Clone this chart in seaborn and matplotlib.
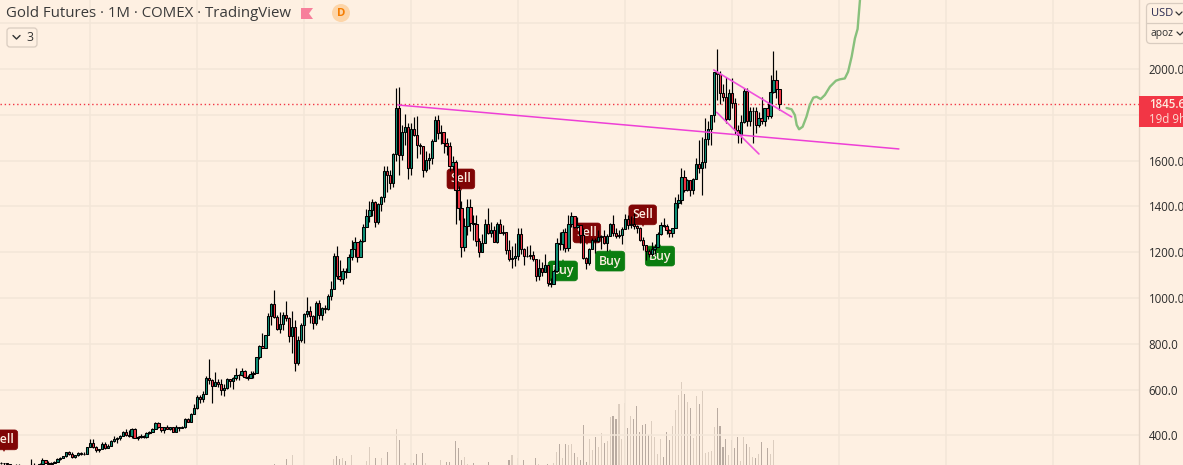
import numpy as np
import seaborn as sns
import matplotlib.pyplot as plt
from matplotlib.patches import Rectangle, FancyBboxPatch, Polygon, Circle

# monthly candles, Jul 2000 .. May 2022, one row per year
opens = [
    281, 277, 277, 276, 264, 270,
    272, 265, 267, 258, 264, 266, 271, 265, 273, 293, 279, 275,
    279, 282, 297, 302, 308, 326, 318, 304, 312, 323, 317, 319,
    347, 368, 347, 336, 339, 364, 346, 354, 375, 385, 386, 398,
    416, 400, 397, 426, 388, 394, 395, 391, 410, 416, 429, 453,
    438, 422, 435, 428, 436, 414, 437, 430, 437, 473, 459, 495,
    518, 569, 557, 582, 652, 642, 616, 632, 626, 598, 606, 647,
    638, 650, 665, 663, 679, 655, 650, 667, 673, 743, 789, 783,
    838, 923, 975, 916, 865, 886, 925, 912, 833, 874, 717, 816,
    884, 928, 943, 922, 891, 979, 927, 955, 950, 1008, 1040, 1182,
    1097, 1083, 1118, 1115, 1180, 1213, 1244, 1181, 1248, 1308, 1359, 1386,
    1421, 1333, 1411, 1439, 1556, 1536, 1502, 1628, 1829, 1623, 1725, 1746,
    1566, 1740, 1711, 1669, 1664, 1560, 1604, 1610, 1687, 1776, 1719, 1726,
    1675, 1663, 1578, 1595, 1472, 1393, 1224, 1313, 1396, 1327, 1323, 1250,
    1202, 1240, 1321, 1284, 1296, 1246, 1322, 1282, 1287, 1210, 1171, 1175,
    1184, 1278, 1213, 1183, 1183, 1189, 1172, 1095, 1132, 1115, 1142, 1065,
    1060, 1116, 1238, 1234, 1290, 1217, 1322, 1357, 1311, 1317, 1277, 1173,
    1152, 1212, 1252, 1247, 1266, 1270, 1242, 1269, 1322, 1284, 1271, 1277,
    1303, 1345, 1318, 1323, 1315, 1305, 1253, 1233, 1206, 1192, 1214, 1222,
    1281, 1320, 1316, 1298, 1285, 1305, 1413, 1427, 1529, 1472, 1514, 1473,
    1520, 1587, 1566, 1596, 1694, 1736, 1800, 1986, 1978, 1895, 1879, 1781,
    1895, 1850, 1734, 1714, 1768, 1905, 1771, 1817, 1818, 1757, 1784, 1774,
    1830, 1796, 1900, 1954, 1911,
]
highs = [
    284, 279, 279, 274, 272, 275,
    274, 270, 271, 268, 298, 280, 271, 280, 300, 294, 286, 282,
    287, 299, 304, 311, 328, 333, 328, 316, 325, 326, 326, 351,
    383, 385, 353, 342, 372, 371, 362, 381, 395, 392, 400, 418,
    426, 421, 432, 430, 396, 405, 400, 416, 418, 432, 458, 457,
    428, 438, 445, 438, 433, 445, 438, 439, 474, 476, 498, 537,
    575, 576, 592, 660, 733, 645, 676, 648, 645, 625, 652, 645,
    655, 692, 668, 694, 685, 664, 682, 680, 744, 795, 848, 840,
    933, 978, 1033, 925, 938, 938, 986, 916, 942, 904, 832, 892,
    935, 1006, 965, 927, 988, 992, 961, 968, 1019, 1072, 1197, 1227,
    1164, 1131, 1129, 1192, 1253, 1267, 1212, 1258, 1323, 1388, 1424, 1432,
    1424, 1415, 1446, 1575, 1578, 1557, 1632, 1917, 1923, 1755, 1804, 1766,
    1764, 1791, 1793, 1679, 1666, 1641, 1634, 1695, 1795, 1798, 1755, 1727,
    1698, 1680, 1620, 1604, 1488, 1424, 1348, 1434, 1434, 1362, 1362, 1261,
    1280, 1345, 1392, 1331, 1315, 1332, 1345, 1320, 1287, 1255, 1225, 1238,
    1307, 1307, 1220, 1225, 1232, 1205, 1172, 1170, 1157, 1191, 1142, 1088,
    1128, 1264, 1287, 1303, 1306, 1362, 1377, 1351, 1352, 1317, 1306, 1180,
    1220, 1264, 1261, 1296, 1275, 1298, 1278, 1327, 1362, 1306, 1299, 1310,
    1365, 1363, 1356, 1369, 1320, 1308, 1265, 1222, 1216, 1246, 1236, 1286,
    1331, 1349, 1325, 1300, 1306, 1442, 1453, 1566, 1560, 1518, 1516, 1525,
    1613, 1692, 1704, 1788, 1775, 1800, 1986, 2089, 1992, 1934, 1966, 1912,
    1962, 1875, 1756, 1798, 1917, 1919, 1836, 1834, 1836, 1814, 1878, 1831,
    1854, 1976, 2078, 1998, 1910,
]
lows = [
    274, 270, 266, 263, 260, 268,
    262, 255, 255, 255, 263, 266, 263, 265, 271, 277, 270, 271,
    277, 282, 290, 299, 307, 313, 302, 299, 311, 312, 315, 317,
    347, 346, 326, 325, 338, 341, 343, 354, 371, 368, 380, 396,
    398, 391, 390, 386, 378, 386, 387, 390, 404, 414, 426, 434,
    414, 412, 426, 422, 414, 416, 417, 430, 433, 458, 457, 492,
    516, 541, 547, 582, 625, 543, 617, 613, 577, 572, 603, 613,
    604, 643, 640, 660, 650, 642, 650, 652, 672, 734, 783, 780,
    846, 884, 912, 861, 849, 862, 900, 806, 761, 681, 705, 809,
    802, 918, 889, 865, 880, 909, 904, 935, 948, 990, 1044, 1082,
    1072, 1062, 1087, 1115, 1165, 1180, 1156, 1177, 1245, 1318, 1331, 1360,
    1309, 1323, 1382, 1421, 1463, 1477, 1483, 1599, 1535, 1604, 1668, 1520,
    1539, 1708, 1612, 1628, 1527, 1549, 1562, 1585, 1685, 1695, 1671, 1635,
    1625, 1555, 1560, 1321, 1339, 1180, 1207, 1274, 1294, 1251, 1227, 1181,
    1221, 1239, 1280, 1268, 1243, 1241, 1282, 1273, 1190, 1161, 1131, 1141,
    1167, 1190, 1142, 1179, 1170, 1162, 1072, 1077, 1098, 1113, 1052, 1046,
    1061, 1112, 1208, 1208, 1200, 1207, 1310, 1304, 1305, 1241, 1171, 1125,
    1146, 1216, 1195, 1244, 1213, 1236, 1205, 1269, 1271, 1262, 1264, 1237,
    1303, 1303, 1304, 1302, 1282, 1247, 1211, 1167, 1180, 1182, 1192, 1221,
    1277, 1312, 1281, 1266, 1267, 1311, 1393, 1412, 1465, 1466, 1445, 1452,
    1518, 1548, 1451, 1567, 1670, 1670, 1769, 1863, 1848, 1860, 1764, 1776,
    1832, 1717, 1676, 1677, 1766, 1750, 1750, 1678, 1721, 1746, 1761, 1753,
    1781, 1788, 1895, 1872, 1822,
]
closes = [
    277, 277, 276, 264, 270, 272,
    265, 267, 258, 264, 266, 271, 265, 273, 293, 279, 275, 279,
    282, 297, 302, 308, 326, 318, 304, 312, 323, 317, 319, 347,
    368, 347, 336, 339, 364, 346, 354, 375, 385, 386, 398, 416,
    400, 397, 426, 388, 394, 395, 391, 410, 416, 429, 453, 438,
    422, 435, 428, 436, 414, 437, 430, 437, 473, 459, 495, 518,
    569, 557, 582, 652, 642, 616, 632, 626, 598, 606, 647, 638,
    650, 665, 663, 679, 655, 650, 667, 673, 743, 789, 783, 838,
    923, 975, 916, 865, 886, 925, 912, 833, 874, 717, 816, 884,
    928, 943, 922, 891, 979, 927, 955, 950, 1008, 1040, 1182, 1097,
    1083, 1118, 1115, 1180, 1213, 1244, 1181, 1248, 1308, 1359, 1386, 1421,
    1333, 1411, 1439, 1556, 1536, 1502, 1628, 1829, 1623, 1725, 1746, 1566,
    1740, 1711, 1669, 1664, 1560, 1604, 1610, 1687, 1776, 1719, 1726, 1675,
    1663, 1578, 1595, 1472, 1393, 1224, 1313, 1396, 1327, 1323, 1250, 1202,
    1240, 1321, 1284, 1296, 1246, 1322, 1282, 1287, 1210, 1171, 1175, 1184,
    1278, 1213, 1183, 1183, 1189, 1172, 1095, 1132, 1115, 1142, 1065, 1060,
    1116, 1238, 1234, 1290, 1217, 1322, 1357, 1311, 1317, 1277, 1173, 1152,
    1212, 1252, 1247, 1266, 1270, 1242, 1269, 1322, 1284, 1271, 1277, 1303,
    1345, 1318, 1323, 1315, 1305, 1253, 1233, 1206, 1192, 1214, 1222, 1281,
    1320, 1316, 1298, 1285, 1305, 1413, 1427, 1529, 1472, 1514, 1473, 1520,
    1587, 1566, 1596, 1694, 1736, 1800, 1986, 1978, 1895, 1879, 1781, 1895,
    1850, 1734, 1714, 1768, 1905, 1771, 1817, 1818, 1757, 1784, 1774, 1830,
    1796, 1900, 1954, 1911, 1845.6,
]
# visible part of the volume pane (its baseline is cut off by the crop)
volume = [
    0, 0, 0, 0, 0, 0,
    0, 0, 0, 0, 0, 0, 0, 0, 0, 0, 0, 0,
    0, 0, 0, 0, 0, 0, 0, 0, 0, 0, 0, 0,
    0, 0, 0, 0, 0, 0, 0, 0, 0, 0, 0, 0,
    0, 0, 0, 0, 0, 0, 0, 0, 0, 0, 0, 0,
    0, 0, 0, 0, 0, 0, 0, 0, 0, 0, 0, 0,
    0, 0, 0, 0, 0, 0, 0, 0, 0, 0, 0, 0,
    0, 0, 0, 0, 0, 0, 0, 0, 0, 0, 0, 0,
    0, 0, 3, 0, 0, 0, 18, 0, 30, 0, 0, 0,
    0, 0, 0, 0, 0, 0, 0, 0, 0, 0, 18, 27,
    18, 21, 12, 0, 30, 0, 0, 0, 0, 12, 54, 0,
    21, 0, 21, 0, 39, 0, 0, 108, 75, 0, 5, 0,
    5, 5, 33, 0, 36, 6, 0, 0, 0, 0, 15, 0,
    9, 9, 0, 72, 51, 15, 24, 3, 0, 6, 0, 0,
    0, 0, 9, 0, 0, 0, 0, 0, 0, 15, 30, 0,
    21, 0, 15, 0, 0, 0, 21, 3, 0, 0, 3, 0,
    6, 39, 63, 21, 63, 60, 63, 36, 24, 15, 120, 9,
    78, 45, 84, 54, 96, 66, 72, 144, 147, 138, 183, 78,
    186, 111, 147, 138, 177, 99, 120, 123, 90, 132, 84, 33,
    78, 24, 99, 75, 117, 165, 210, 249, 213, 189, 171, 81,
    207, 183, 222, 36, 39, 42, 114, 171, 117, 54, 78, 30,
    75, 51, 84, 12, 84, 63, 54, 24, 21, 33, 69, 0,
    51, 33, 75, 0, 0,
]

yticks = [2200, 2000, 1800, 1600, 1400, 1200, 1000, 800, 600, 400]
ylabels = ['', '2000.0', '', '1600.0', '1400.0', '1200.0', '1000.0', '800.0', '600.0', '400.0']
year_ticks = [30, 66, 102, 138, 174, 210, 246, 282, 318, 354]

sell_x = [1.0, 154.8, 197.2, 216.0]
sell_y = [380, 1520, 1284, 1363]
buy_x = [189.1, 205.0, 221.8]
buy_y = [1118, 1161, 1183]

long_trend_x = [133.6, 302.2]
long_trend_y = [1843, 1651]
upper_flag_x = [239.9, 266.1]
upper_flag_y = [1996, 1791]
lower_flag_x = [240.9, 255.1]
lower_flag_y = [1811, 1629]

sketch_x = [264.4, 266.1, 267.2, 267.8, 268.6, 269.8, 271.1, 272.2, 273.4, 274.5, 275.9,
            277.3, 279.0, 281.0, 282.3, 284.0, 285.1, 286.3, 287.4, 288.3, 289.1, 289.3]
sketch_y = [1830, 1824, 1799, 1756, 1737, 1748, 1792, 1843, 1875, 1879, 1869,
            1887, 1923, 1949, 1955, 1959, 1988, 2054, 2134, 2175, 2302, 2330]

last_price = 1845.6

BG = '#fef0e2'
GRID = '#f3e6d8'
UP = '#0f8f76'
DOWN = '#f23645'
FONT = 'Open Sans'

sns.set_theme(style='white', rc={'figure.facecolor': BG, 'axes.facecolor': BG,
                                 'savefig.facecolor': BG})
plt.rcParams['font.family'] = [FONT, 'DejaVu Sans']

opens, highs, lows, closes = map(np.array, (opens, highs, lows, closes))
idx = np.arange(len(closes))
rising = closes >= opens

fig = plt.figure(figsize=(11.83, 4.65), dpi=100)
ax_vol = fig.add_axes([0, 0, 1139 / 1183, 1])
ax = fig.add_axes([0, 0, 1139 / 1183, 1], sharex=ax_vol)
ax.patch.set_visible(False)

# volume pane
ax_vol.bar(idx, volume, width=0.36, color=np.where(rising, '#dccdbf', '#b9aba1'), linewidth=0)
ax_vol.set_ylim(0, 1395)
ax_vol.set_yticks([])
sns.despine(ax=ax_vol, left=True, bottom=True, right=True, top=True)

# price pane
ax.set_xlim(-0.3, 383)
ax.set_ylim(270.2, 2301.7)
ax.yaxis.tick_right()
ax.set_yticks(yticks)
ax.set_yticklabels(ylabels, fontsize=8.3, color='#2b2b2b')
ax.set_xticks(year_ticks)
ax.set_xticklabels([])
ax.tick_params(axis='both', length=0)
ax.tick_params(axis='y', pad=7)
ax.grid(True, color=GRID, linewidth=1.1, zorder=0)
ax.set_axisbelow(True)
sns.despine(ax=ax, left=True, bottom=True, top=True, right=False)
ax.spines['right'].set_color('#e5d6c8')
ax.spines['right'].set_linewidth(1)

ax.axhline(last_price, color=DOWN, linewidth=1, linestyle=(0, (1, 2)), zorder=1)

# signal labels sit under the candles
for x, y, txt, col, mk, dy in (
        [(a, b, 'Sell', '#800505', 'v', -41) for a, b in zip(sell_x, sell_y)]
        + [(a, b, 'Buy', '#0a7d10', '^', 41) for a, b in zip(buy_x, buy_y)]):
    ax.text(x, y, txt, color='#fdeee0', fontsize=8.8, fontweight='semibold', ha='center', va='center',
            zorder=2, bbox=dict(boxstyle='round,pad=0.28,rounding_size=0.25', fc=col, ec=col, lw=0.5))
    ax.plot([x], [y + dy], marker=mk, ms=4.5, color=col, mew=0, zorder=2)

# candles
ax.vlines(idx, lows, highs, color='black', linewidth=0.85, zorder=3)
ax.bar(idx, np.abs(closes - opens), bottom=np.minimum(opens, closes), width=0.78,
       color=np.where(rising, UP, DOWN), edgecolor='black', linewidth=0.75, zorder=4)

# drawings
sns.lineplot(x=long_trend_x, y=long_trend_y, ax=ax, color='#ee3fd6', linewidth=1.1, zorder=5)
sns.lineplot(x=upper_flag_x, y=upper_flag_y, ax=ax, color='#f050dc', linewidth=1.2, zorder=5)
sns.lineplot(x=lower_flag_x, y=lower_flag_y, ax=ax, color='#f050dc', linewidth=1.2, zorder=5)
sns.lineplot(x=sketch_x, y=sketch_y, ax=ax, sort=False, estimator=None, color='#88c07c', linewidth=1.7, zorder=5)
ax.set_xlim(-0.3, 383)
ax.set_ylim(270.2, 2301.7)

# page chrome in pixel coordinates
ui = fig.add_axes([0, 0, 1, 1], zorder=10)
ui.set_xlim(0, 1183)
ui.set_ylim(465, 0)
ui.axis('off')

ui.text(6, 13.5, 'Gold Futures · 1M · COMEX · TradingView', fontsize=10.8, color='#3a3a3a', va='center', ha='left')
ui.add_patch(Polygon([(301, 8), (313, 8), (309, 13.5), (313, 19), (301, 19)], fc='#f77f9b', ec='none'))
ui.add_patch(Circle((341, 13), 9, fc='#fdd5a8', ec='none'))
ui.text(341, 13, 'D', fontsize=8.2, fontweight='bold', color='#f57c00', ha='center', va='center')

ui.add_patch(FancyBboxPatch((7, 28), 30, 19, boxstyle='round,pad=0,rounding_size=3', fc=BG, ec='#d9ccc0', lw=0.9))
ui.plot([13, 16.5, 20], [35.5, 39, 35.5], color='#333333', lw=1)
ui.text(29.5, 37.5, '3', fontsize=8.8, color='#333333', ha='center', va='center')

ui.add_patch(FancyBboxPatch((1146.5, 3.5), 60, 40, boxstyle='round,pad=0,rounding_size=4', fc=BG, ec='#d9ccc0', lw=0.9))
ui.plot([1146.5, 1183], [23.5, 23.5], color='#d9ccc0', lw=0.9)
ui.text(1151, 13, 'USD', fontsize=8.0, color='#2a2a50', va='center')
ui.plot([1176, 1179, 1182], [12, 15, 12], color='#333333', lw=0.9)
ui.text(1151, 33.5, 'apoz', fontsize=7.4, color='#333333', va='center')
ui.plot([1177, 1180, 1183], [32, 35, 32], color='#333333', lw=0.9)

ui.add_patch(Rectangle((1139, 96), 44, 31, fc=DOWN, ec='none'))
ui.text(1149, 104.5, f'{last_price:.1f}', fontsize=8.3, fontweight='semibold', color='#fdeee0', va='center')
ui.text(1149, 119, '19d 9h', fontsize=8.3, color='#fddcd2', va='center')

fig.savefig('out.png', dpi=100)
